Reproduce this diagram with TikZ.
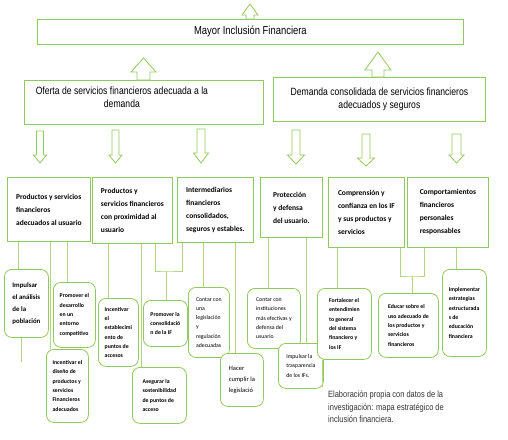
\documentclass[tikz,border=0pt]{standalone}
\usepackage{fontspec}
\setmainfont{Carlito}
\newfontfamily\narrowfont[FakeStretch=0.82]{Liberation Sans}
\usetikzlibrary{calc}
\definecolor{fgreen}{HTML}{92C95E}
\definecolor{flink}{HTML}{B2D680}
\definecolor{fcap}{HTML}{333333}
\tikzset{
  topbox/.style   = {draw=fgreen, line width=0.8pt, rectangle, fill=white,
                     inner sep=0pt, anchor=north west},
  lvlbox/.style   = {topbox, align=left, font=\bfseries\fontsize{7.5}{13}\selectfont},
  actbox/.style   = {topbox, rounded corners=7.5pt, align=left,
                     font=\bfseries\fontsize{5.8}{9.3}\selectfont},
  actthin/.style  = {actbox, font=\fontsize{5.8}{9.3}\selectfont},
  headtext/.style = {font=\narrowfont\fontsize{10.5}{13}\selectfont, align=center},
  hollow/.style   = {draw=fgreen, line width=0.8pt, fill=white},
  link/.style     = {draw=flink, line width=0.6pt},
}
% x, y tail, y head base, y tip, half shaft, half head
\newcommand{\blockarrow}[6]{%
  \draw[hollow] (#1-#5,#2) -- (#1+#5,#2) -- (#1+#5,#3) -- (#1+#6,#3) -- (#1,#4)
    -- (#1-#6,#3) -- (#1-#5,#3) -- cycle;}

\begin{document}
\begin{tikzpicture}[x=1pt,y=-1pt]
\useasboundingbox (0,0) rectangle (508,439);
% goal and the two pillars
\node[topbox, minimum width=426pt, minimum height=25pt,
  font=\narrowfont\fontsize{11.5}{13}\selectfont] (mayor) at (37,19) {Mayor Inclusión Financiera};
\node[topbox, minimum width=239pt, minimum height=44pt] (oferta) at (24,80) {};
\node[headtext] (ofertatxt) at ([xshift=-22pt,yshift=5pt]oferta.center)
  {Oferta de servicios financieros adecuada a la\\demanda};
\node[topbox, headtext, minimum width=212pt, minimum height=44pt] (demanda) at (273,77)
  {Demanda consolidada de servicios financieros\\adecuados y seguros};
\blockarrow{250}{19}{15}{4}{4}{8}
\blockarrow{143.5}{80}{72}{58}{6.5}{12.5}
\blockarrow{378}{77}{70}{52}{6}{13}
\blockarrow{40}{131}{155}{163}{3.5}{6.5}
\blockarrow{115.5}{130}{155}{163}{3.5}{6.5}
\blockarrow{201}{129}{153}{163}{4}{7.5}
\blockarrow{296}{130}{155}{164}{4}{8.5}
\blockarrow{366}{134}{158}{166}{4}{8.5}
\blockarrow{456.5}{134}{155}{163}{4.5}{7.5}
% objectives
\node[lvlbox, minimum width=83pt, minimum height=64pt] (prod) at (7,177)
  {Productos y servicios\\financieros\\adecuados al usuario};
\node[lvlbox, minimum width=80pt, minimum height=66pt] (prox) at (92,177)
  {Productos y\\servicios financieros\\con proximidad al\\usuario};
\node[lvlbox, minimum width=76pt, minimum height=65pt] (interm) at (177,177)
  {Intermediarios\\financieros\\consolidados,\\seguros y estables.};
\node[lvlbox, minimum width=62pt, minimum height=60pt] (prot) at (260,177)
  {Protección\\y defensa\\del usuario.};
\node[lvlbox, minimum width=76pt, minimum height=70pt] (compr) at (328,177)
  {Comprensión y\\confianza en los IF\\y sus productos y\\servicios};
\node[lvlbox, minimum width=81pt, minimum height=70pt] (comport) at (407,177)
  {Comportamientos\\financieros\\personales\\responsables};
% actions
\node[actbox, minimum width=44pt, minimum height=68pt,
  font=\bfseries\fontsize{6.85}{12}\selectfont] (analisis) at (4,269)
  {Impulsar\\el análisis\\de la\\población};
\node[actbox, minimum width=42pt, minimum height=65pt] (entorno) at (53,282)
  {Promover el\\desarrollo\\en un\\entorno\\competitivo};
\node[actbox, minimum width=42pt, minimum height=73pt] (diseno) at (46,349)
  {Incentivar el\\diseño de\\productos y\\servicios\\Financieros\\adecuados};
\node[actbox, minimum width=40pt, minimum height=68pt] (puntos) at (98,298)
  {Incentivar\\el\\establecimi\\ento de\\puntos de\\accesos};
\node[actbox, minimum width=44pt, minimum height=46pt] (consol) at (143,300)
  {Promover la\\consolidació\\n de la IF};
\node[actbox, minimum width=54pt, minimum height=56pt] (sosten) at (132,367)
  {Asegurar la\\sostenibilidad\\de puntos de\\acceso};
\node[actthin, minimum width=41pt, minimum height=70pt] (legis) at (188,287)
  {Contar con\\una\\legislación\\y\\regulación\\adecuadas};
\node[actthin, minimum width=43pt, minimum height=53pt,
  font=\fontsize{6.5}{11}\selectfont] (cumplir) at (220,353)
  {Hacer\\cumplir la\\legislació};
\node[actthin, minimum width=53pt, minimum height=60pt] (instit) at (247,288)
  {Contar con\\instituciones\\más efectivas y\\defensa del\\usuario};
\node[actthin, minimum width=45pt, minimum height=45pt] (transp) at (278,343)
  {Impulsar la\\trasparencia\\de los IFs.};
\node[actbox, minimum width=54pt, minimum height=71pt] (entend) at (317,288)
  {Fortalecer el\\entendimien\\to general\\del sistema\\financiero y\\los IF};
\node[actbox, minimum width=60pt, minimum height=64pt] (educar) at (378,293)
  {Educar sobre el\\uso adecuado de\\los productos y\\servicios\\financieros};
\node[actbox, minimum width=44pt, minimum height=87pt] (estrat) at (442,269)
  {Implementar\\estrategias\\estructurada\\s de\\educación\\financiera};
% connectors
\draw[link] (prod.south -| 18,0) -- (analisis.north -| 18,0);
\draw[link] (prod.south -| 50,0) -- (diseno.north -| 50,0);
\draw[link] (prod.south -| 67,0) -- (entorno.north -| 67,0);
\draw[link] (prox.south -| 108,0) -- (puntos.north -| 108,0);
\draw[link] (prox.south -| 141,0) -- (sosten.north -| 141,0);
\coordinate (jconsol) at (166,271);
\draw[link] (prox.south -| 155,0) |- (jconsol) -| (interm.south -| 182,0);
\draw[link] (jconsol) -- (consol.north -| jconsol);
\draw[link] (interm.south -| 203,0) -- (legis.north -| 203,0);
\draw[link] (interm.south -| 235,0) -- (cumplir.north -| 235,0);
\draw[link] (prot.south -| 268,0) -- (instit.north -| 268,0);
\draw[link] (prot.south -| 306,0) -- (transp.north -| 306,0);
\draw[link] (compr.south -| 337,0) -- (entend.north -| 337,0);
\coordinate (jeducar) at (412,276);
\draw[link] (compr.south -| 400,0) |- (jeducar) -| (comport.south -| 424,0);
\draw[link] (jeducar) -- (educar.north -| jeducar);
\draw[link] (comport.south -| 456,0) -- (estrat.north -| 456,0);
\coordinate (endA) at (21,362);
\coordinate (endB) at (322,387);
\draw[link] (analisis.south -| endA) -- (endA);
\draw[link] (entend.south -| endB) -- (endB);
% source note
\node[font=\narrowfont\fontsize{9.1}{12.5}\selectfont, text=fcap, align=left,
  anchor=north west, inner sep=0pt] (fuente) at (328,391)
  {Elaboración propia con datos de la\\investigación: mapa estratégico de\\inclusión financiera.};
\end{tikzpicture}
\end{document}
